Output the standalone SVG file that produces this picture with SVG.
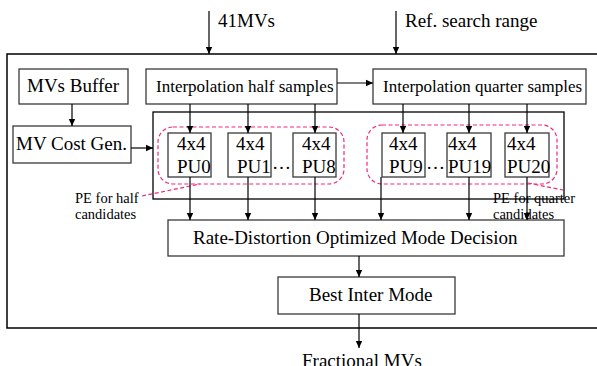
<svg xmlns="http://www.w3.org/2000/svg" width="597" height="366" viewBox="0 0 597 366">
<defs>
<marker id="ah" markerWidth="8" markerHeight="8" refX="7" refY="4" orient="auto" markerUnits="userSpaceOnUse">
<path d="M0,0.8 L7,4 L0,7.2 Z" fill="#000"/>
</marker>
<style>
.box{fill:#fff;stroke:#3a3a3a;stroke-width:1.3}
.t{font-family:"Liberation Serif","Times New Roman",serif;fill:#000}
.b19{font-size:19px}
.b17{font-size:17px}
.s{font-size:14.5px}
.c{fill:none;stroke:#000;stroke-width:1.2}
.p{fill:none;stroke:#f0287a;stroke-width:1.2;stroke-dasharray:4 2.5}
</style>
</defs>
<rect x="0" y="0" width="597" height="366" fill="#fff"/>
<g id="outer"><rect x="7" y="54" width="600" height="274" fill="none" stroke="#000" stroke-width="1.5"/></g>
<g id="inner"><rect x="153" y="112" width="411" height="87" fill="none" stroke="#000" stroke-width="1.3"/></g>
<g id="mvbuf"><rect class="box" x="19" y="69" width="109" height="35"/><text class="t b19" x="27" y="92">MVs Buffer</text></g>
<g id="interp-half"><rect class="box" x="146" y="69" width="191" height="35"/><text class="t b17" x="156" y="92">Interpolation half samples</text></g>
<g id="interp-quarter"><rect class="box" x="373" y="69" width="213" height="35"/><text class="t b17" x="383" y="92">Interpolation quarter samples</text></g>
<g id="mvcost"><rect class="box" x="13" y="126" width="118" height="37"/><text class="t b19" x="16" y="150">MV Cost Gen.</text></g>
<g id="pu0"><rect class="box" x="168" y="133" width="43" height="44"/><text class="t b19" x="177" y="150">4x4</text><text class="t b19" x="177" y="173">PU0</text></g>
<g id="pu1"><rect class="box" x="228" y="133" width="43" height="44"/><text class="t b19" x="236" y="150">4x4</text><text class="t b19" x="237" y="173">PU1</text></g>
<g id="pu8"><rect class="box" x="293" y="133" width="43" height="44"/><text class="t b19" x="302" y="150">4x4</text><text class="t b19" x="302" y="173">PU8</text></g>
<g id="pu9"><rect class="box" x="382" y="133" width="43" height="44"/><text class="t b19" x="389" y="150">4x4</text><text class="t b19" x="389" y="173">PU9</text></g>
<g id="pu19"><rect class="box" x="447" y="133" width="44" height="44"/><text class="t b19" x="448" y="150">4x4</text><text class="t b19" x="448" y="173">PU19</text></g>
<g id="pu20"><rect class="box" x="505" y="133" width="44" height="44"/><text class="t b19" x="507" y="150">4x4</text><text class="t b19" x="507" y="173">PU20</text></g>
<text class="t b19" x="272" y="169">…</text>
<text class="t b19" x="426" y="169">…</text>
<g id="rdo"><rect class="box" x="168" y="220" width="396" height="36"/><text class="t b19" x="193" y="244">Rate-Distortion Optimized Mode Decision</text></g>
<g id="best"><rect class="box" x="278" y="277" width="177" height="37"/><text class="t b19" x="309" y="301">Best Inter Mode</text></g>
<g id="pe-half"><rect class="p" x="158" y="127" width="186" height="57" rx="15"/><path class="p" d="M142,196 L200,184"/><text class="t s" x="75" y="203">PE for half</text><text class="t s" x="75" y="219">candidates</text></g>
<g id="pe-quarter"><rect class="p" x="367" y="125" width="190" height="59" rx="15"/><path class="p" d="M528,183 L563,190"/></g>
<g id="labels">
<text class="t b19" x="218" y="27">41MVs</text>
<text class="t b19" x="405" y="27">Ref. search range</text>
<text class="t b19" x="302" y="367">Fractional MVs</text>
</g>
<g id="connectors">
<line class="c" x1="209" y1="11" x2="209" y2="54" marker-end="url(#ah)"/>
<line class="c" x1="396" y1="11" x2="396" y2="54" marker-end="url(#ah)"/>
<line class="c" x1="72" y1="104" x2="72" y2="126" marker-end="url(#ah)"/>
<line class="c" x1="337" y1="83" x2="373" y2="83" marker-end="url(#ah)"/>
<line class="c" x1="131" y1="148" x2="153" y2="148" marker-end="url(#ah)"/>
<line class="c" x1="190" y1="104" x2="190" y2="133" marker-end="url(#ah)"/>
<line class="c" x1="248" y1="104" x2="248" y2="133" marker-end="url(#ah)"/>
<line class="c" x1="315" y1="104" x2="315" y2="133" marker-end="url(#ah)"/>
<line class="c" x1="403" y1="104" x2="403" y2="133" marker-end="url(#ah)"/>
<line class="c" x1="469" y1="104" x2="469" y2="133" marker-end="url(#ah)"/>
<line class="c" x1="527" y1="104" x2="527" y2="133" marker-end="url(#ah)"/>
<line class="c" x1="190" y1="177" x2="190" y2="220" marker-end="url(#ah)"/>
<line class="c" x1="248" y1="177" x2="248" y2="220" marker-end="url(#ah)"/>
<line class="c" x1="315" y1="177" x2="315" y2="220" marker-end="url(#ah)"/>
<line class="c" x1="381" y1="177" x2="381" y2="220" marker-end="url(#ah)"/>
<line class="c" x1="469" y1="177" x2="469" y2="220" marker-end="url(#ah)"/>
<line class="c" x1="527" y1="177" x2="527" y2="220" marker-end="url(#ah)"/>
<line class="c" x1="359" y1="256" x2="359" y2="277" marker-end="url(#ah)"/>
<line class="c" x1="359" y1="314" x2="359" y2="348" marker-end="url(#ah)"/>
</g>
<g id="pe-quarter-label"><text class="t s" x="493" y="203">PE for quarter</text><text class="t s" x="493" y="219">candidates</text></g>
</svg>
